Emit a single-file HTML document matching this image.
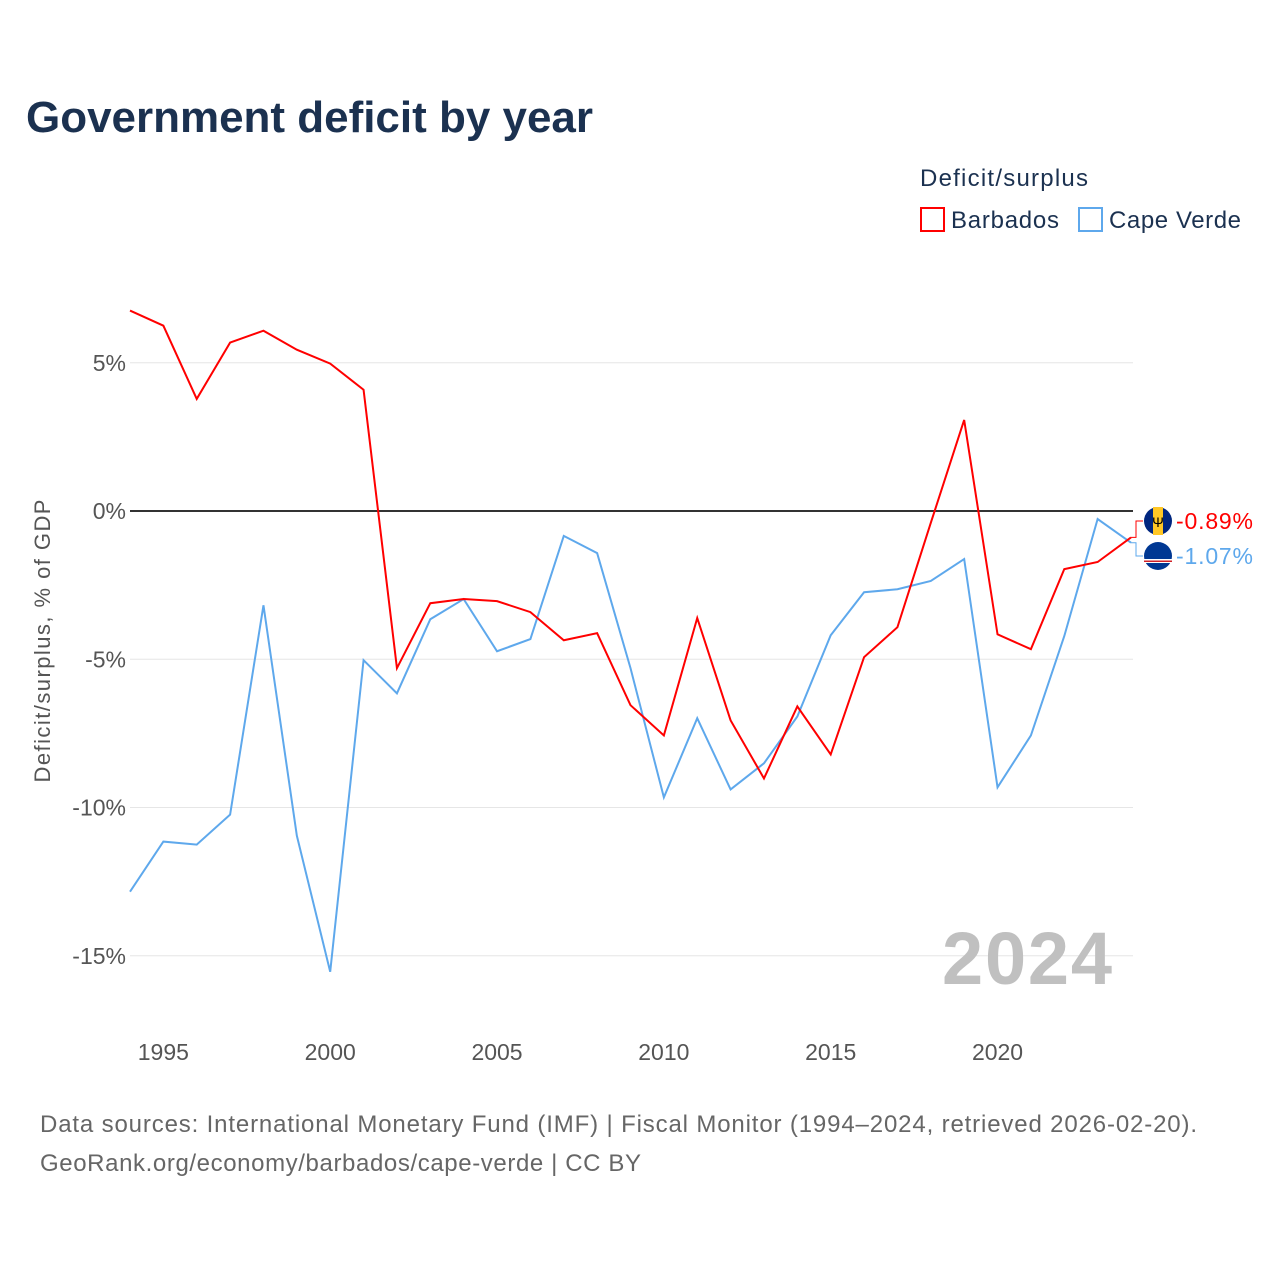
<!DOCTYPE html>
<html><head><meta charset="utf-8"><style>
body{margin:0;background:#fff;font-family:"Liberation Sans",sans-serif}
#wrap{position:relative;width:1280px;height:1280px;overflow:hidden}
</style></head><body>
<div id="wrap">
<svg id="chart" width="1280" height="1280">
<text x="26" y="132" font-size="44" font-weight="bold" fill="#1b3150" textLength="567">Government deficit by year</text>
<g>
<text x="920" y="186" font-size="24" fill="#1b3150" textLength="168">Deficit/surplus</text>
<g><rect x="921" y="208" width="23" height="23" fill="none" stroke="#ff0000" stroke-width="2"/><text x="951" y="228" font-size="24" fill="#1b3150" textLength="108">Barbados</text></g>
<g><rect x="1079" y="208" width="23" height="23" fill="none" stroke="#5ea8ec" stroke-width="2"/><text x="1109" y="228" font-size="24" fill="#1b3150" textLength="132">Cape Verde</text></g>
</g>
<text transform="translate(50,641) rotate(-90)" text-anchor="middle" font-size="22" fill="#555" textLength="283">Deficit/surplus, % of GDP</text>
<g id="grid"></g><g id="xt"></g>
<text x="1112" y="984" text-anchor="end" font-size="74" font-weight="bold" fill="#c0c0c0" textLength="170">2024</text>
<g id="lines"></g><g id="labels"></g>
<text x="40" y="1132" font-size="24" fill="#666" textLength="1157">Data sources: International Monetary Fund (IMF) | Fiscal Monitor (1994–2024, retrieved 2026-02-20).</text>
<text x="40" y="1171" font-size="24" fill="#666" textLength="601">GeoRank.org/economy/barbados/cape-verde | CC BY</text>
</svg></div>
<script>
const years=[1994,1995,1996,1997,1998,1999,2000,2001,2002,2003,2004,2005,2006,2007,2008,2009,2010,2011,2012,2013,2014,2015,2016,2017,2018,2019,2020,2021,2022,2023,2024];
const barbados=[6.76,6.25,3.78,5.68,6.08,5.44,4.97,4.09,-5.30,-3.11,-2.97,-3.04,-3.41,-4.36,-4.12,-6.55,-7.57,-3.61,-7.06,-9.02,-6.59,-8.21,-4.93,-3.92,-0.4,3.07,-4.16,-4.66,-1.96,-1.72,-0.89];
const capeVerde=[-12.84,-11.15,-11.25,-10.24,-3.18,-10.95,-15.54,-5.03,-6.15,-3.65,-2.97,-4.73,-4.32,-0.84,-1.42,-5.30,-9.66,-6.99,-9.39,-8.51,-6.93,-4.19,-2.74,-2.64,-2.36,-1.62,-9.32,-7.57,-4.22,-0.27,-1.07];
const yTicks=[5,0,-5,-10,-15];
const xTicks=[1995,2000,2005,2010,2015,2020];
const NS="http://www.w3.org/2000/svg";
const X=y=>130+(y-1994)*(1001/30);
const Y=v=>511-v*29.65;
function mk(t,a,p){const e=document.createElementNS(NS,t);for(const k in a)e.setAttribute(k,a[k]);p.appendChild(e);return e;}
const grid=document.getElementById('grid');
yTicks.forEach(t=>{
 const l=mk('line',{x1:130,x2:1133,y1:Y(t),y2:Y(t),stroke:t===0?'#333':'#e6e6e6','stroke-width':t===0?2:1},grid);
 
 
 const tx=mk('text',{x:126,y:Y(t)+8,'text-anchor':'end','font-size':23,fill:'#555'},grid);
 tx.textContent=t+'%';
 
 
});
const xt=document.getElementById('xt');
xTicks.forEach(t=>{
 const tx=mk('text',{x:X(t),y:1060,'text-anchor':'middle','font-size':23,fill:'#555'},xt);
 tx.textContent=t;
 
 
});
const lines=document.getElementById('lines');
[[capeVerde,'#5ea8ec','cape-verde-line'],[barbados,'#ff0000','barbados-line']].forEach(([d,c,n])=>{
 const p=mk('polyline',{points:d.map((v,i)=>X(years[i])+','+Y(v)).join(' '),fill:'none',stroke:c,'stroke-width':2},lines);
 
 
});
const lab=document.getElementById('labels');
const lx=X(2024);
[[barbados,'#ff0000','barbados',521,'#00267f'],[capeVerde,'#5ea8ec','cape-verde',556,'#003893']].forEach(([d,c,n,ly,fc])=>{
 const v=d[d.length-1];
 mk('polyline',{points:`${lx},${Y(v)} ${lx+5},${Y(v)} ${lx+5},${ly} ${lx+12},${ly}`,fill:'none',stroke:c,'stroke-width':1},lab);
 const f=mk('circle',{cx:1158,cy:ly,r:14,fill:fc},lab);
 
 
 if(n==='barbados'){mk('rect',{x:1153,y:ly-14,width:10,height:28,fill:'#ffc726'},lab);mk('text',{x:1158,y:ly+6,'text-anchor':'middle','font-size':14,fill:'#000'},lab).textContent='Ψ';}
 else{mk('rect',{x:1144,y:ly+3,width:28,height:4,fill:'#fff'},lab);mk('rect',{x:1144,y:ly+4.5,width:28,height:1.5,fill:'#cf2027'},lab);}
 const t=mk('text',{x:1176,y:ly+8,'font-size':23,fill:c,textLength:77},lab);
 t.textContent=v.toFixed(2)+'%';
 
 
});
</script></body></html>
